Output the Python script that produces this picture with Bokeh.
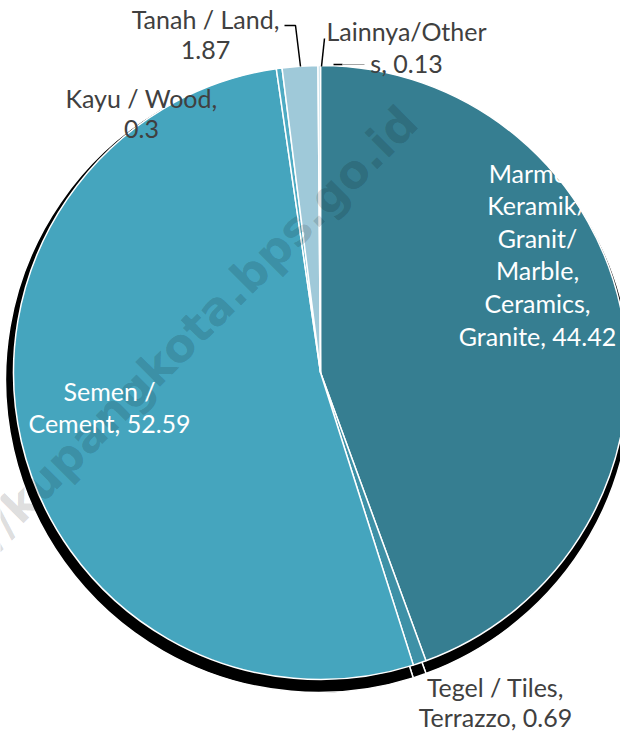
import math
from bokeh.plotting import figure
from bokeh.models import Range1d
from bokeh.core.properties import value
from bokeh.embed import file_html
from bokeh.resources import INLINE

# ---- data ----
categories = [
    "Marmer/Keramik/Granit/ Marble, Ceramics, Granite",
    "Tegel / Tiles, Terrazzo",
    "Semen / Cement",
    "Kayu / Wood",
    "Tanah / Land",
    "Lainnya/Others",
]
values = [44.42, 0.69, 52.59, 0.3, 1.87, 0.13]
colors = ["#367E91", "#3E91A7", "#45A5BE", "#4FABC3", "#9FC9D9", "#C2DDE7"]
label_lines = [
    ["Marmer/", "Keramik/", "Granit/", "Marble,", "Ceramics,", "Granite, {v}"],
    ["Tegel / Tiles,", "Terrazzo, {v}"],
    ["Semen /", "Cement, {v}"],
    ["Kayu / Wood,", "{v}"],
    ["Tanah / Land,", "{v}"],
    ["Lainnya/Other", "s, {v}"],
]
watermark = "https://kupangkota.bps.go.id"

# ---- layout (pixel coordinates of the picture, y downwards) ----
label_x = [537, 495, 109, 141, 205, 406]
label_y0 = [172, 686, 390, 97, 18, 30]
label_dy = [32.6, 30, 32, 31, 31, 32]
label_color = ["white", "#404040", "white", "#404040", "#404040", "#404040"]
FONT = "Lato"
FS = "25px"

W, H = 620, 732
p = figure(width=W, height=H, x_range=Range1d(0, W), y_range=Range1d(-H, 0),
           output_backend="svg", toolbar_location=None, min_border=0)
p.axis.visible = False
p.grid.visible = False
p.outline_line_color = None
p.background_fill_color = "white"
p.border_fill_color = "white"

total = sum(values)
starts, ends = [], []
cum = 0.0
for v in values:
    starts.append(math.pi / 2 - 2 * math.pi * (cum + v) / total)
    ends.append(math.pi / 2 - 2 * math.pi * cum / total)
    cum += v

CX, CY, R = 320, -372, 307
# shadow
p.wedge(x=CX - 2, y=CY - 7, radius=R + 6, start_angle=starts, end_angle=ends,
        fill_color="black", line_color="white", line_width=1.5)
# pie
p.wedge(x=CX, y=CY, radius=R, start_angle=starts, end_angle=ends,
        fill_color=colors, line_color="white", line_width=1.5)

# watermark
p.text(x=[409], y=[-114], text=[watermark], angle=45, angle_units="deg",
       text_align="right", text_baseline="middle",
       text_font=value("DejaVu Sans"), text_font_style="bold", text_font_size="46px",
       text_color="black", text_alpha=0.15)

# leader lines
p.line(x=[284, 295, 300], y=[-25, -25, -66], line_color="black", line_width=1.5)
p.line(x=[324, 321], y=[-38, -66], line_color="black", line_width=1.5)
p.line(x=[333, 342], y=[-64, -64], line_color="black", line_width=1.5)
p.line(x=[342, 364], y=[-64, -64], line_color="#A6A6A6", line_width=1)

# labels
for i, lines in enumerate(label_lines):
    xs, ys, ts = [], [], []
    for j, ln in enumerate(lines):
        xs.append(label_x[i])
        ys.append(-(label_y0[i] + j * label_dy[i]))
        ts.append(ln.format(v=values[i]))
    p.text(x=xs, y=ys, text=ts, text_align="center", text_baseline="middle",
           text_font=value(FONT), text_font_size=FS, text_color=label_color[i])

open("out.html", "w").write(file_html(p, INLINE))
